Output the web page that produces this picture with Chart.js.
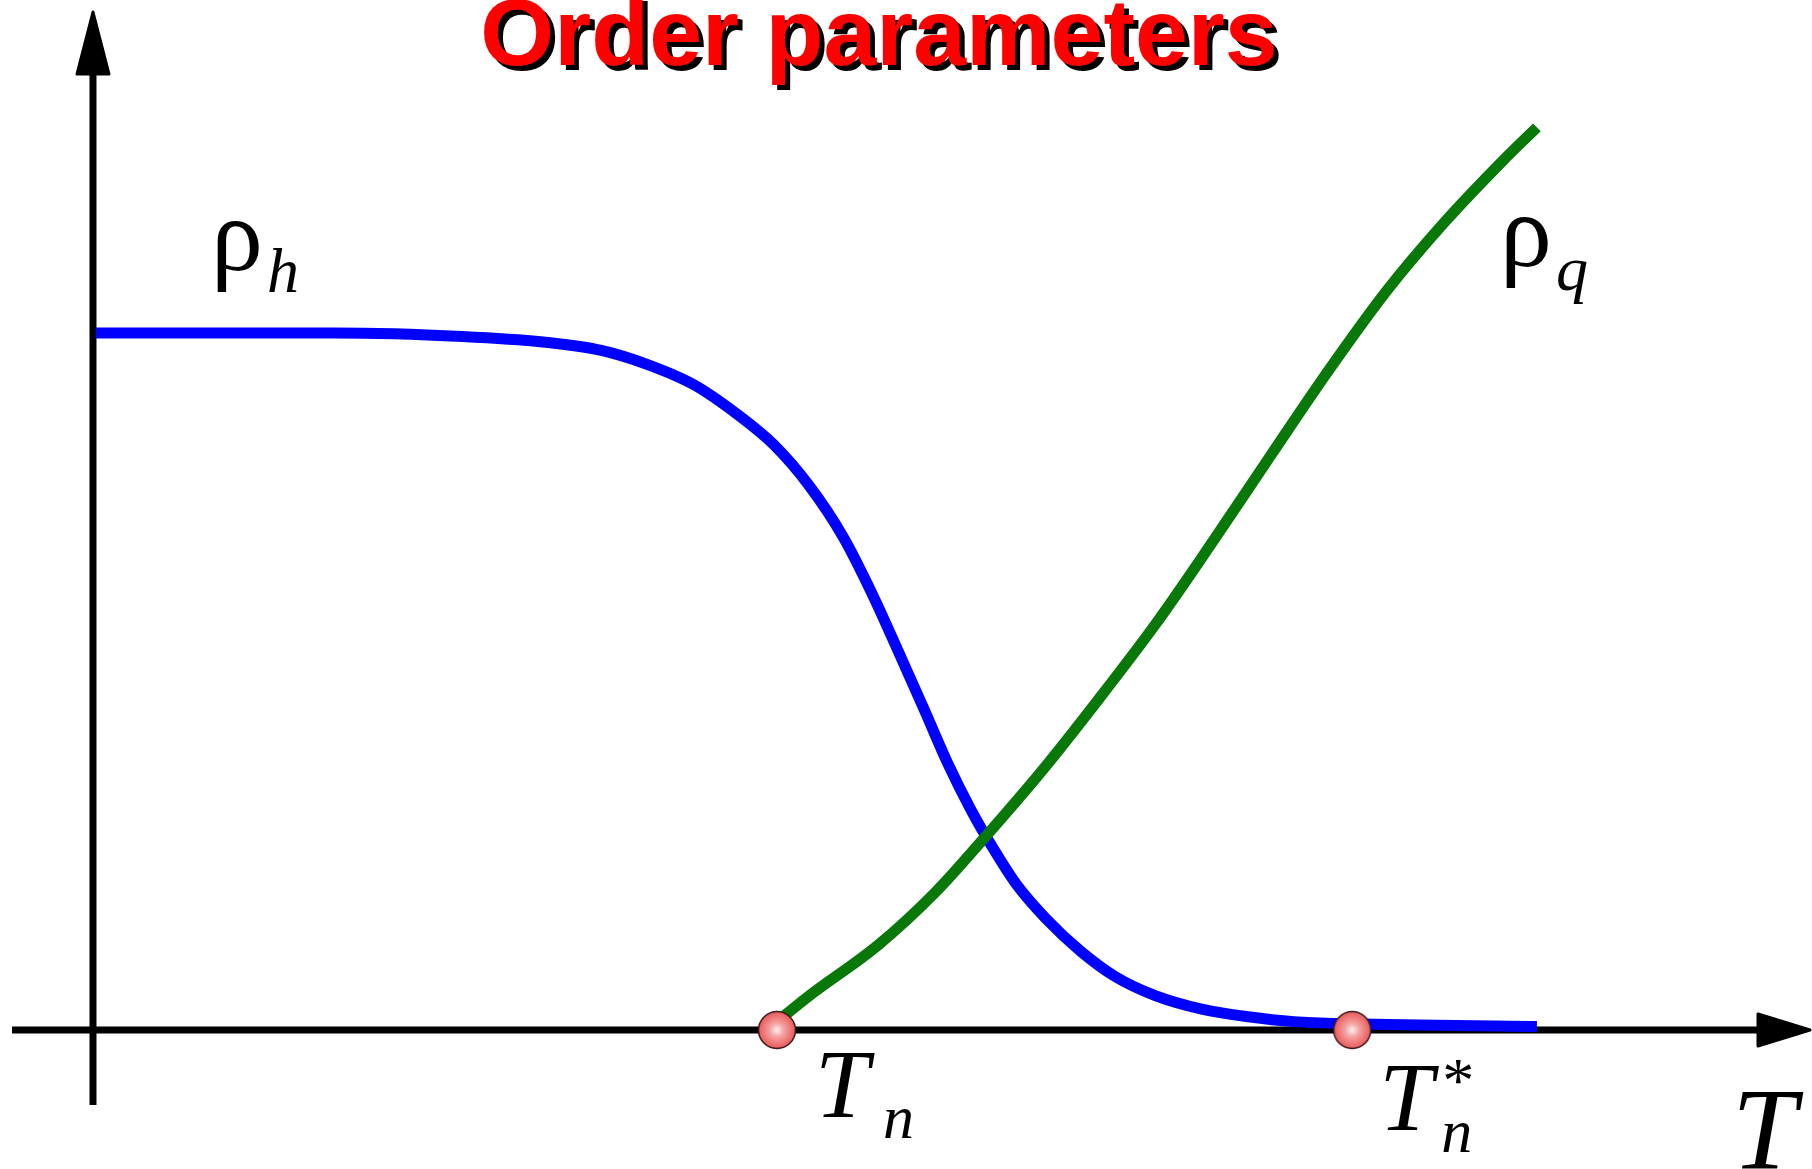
<!DOCTYPE html>
<html>
<head>
<meta charset="utf-8">
<script src="https://cdn.jsdelivr.net/npm/chart.js@4.4.0/dist/chart.umd.min.js"></script>
<style>
html, body { margin: 0; padding: 0; background: #fff; overflow: hidden; }
#wrap { width: 1812px; height: 1169px; position: relative; }
</style>
</head>
<body>
<div id="wrap"><canvas id="chart"></canvas></div>
<script>
// order parameter curves, T in units of Tn, rho in units of rho_h(0)
var hotT   = [0.004, 0.354, 0.540, 0.658, 0.743, 0.810, 0.878, 0.945, 0.996, 1.047, 1.097, 1.140, 1.182, 1.216, 1.249, 1.283, 1.317, 1.350, 1.393, 1.444, 1.494, 1.554, 1.621, 1.689, 1.756, 1.841, 2.111];
var hotRho = [1.000, 1.000, 0.995, 0.987, 0.975, 0.955, 0.926, 0.881, 0.839, 0.781, 0.707, 0.624, 0.533, 0.458, 0.384, 0.317, 0.259, 0.209, 0.160, 0.113, 0.077, 0.049, 0.030, 0.019, 0.012, 0.009, 0.005];

var qT   = [1.000, 1.047, 1.148, 1.232, 1.300, 1.385, 1.469, 1.554, 1.638, 1.723, 1.807, 1.891, 1.976, 2.060, 2.111];
var qRho = [0.012, 0.049, 0.122, 0.198, 0.272, 0.369, 0.473, 0.583, 0.702, 0.826, 0.947, 1.060, 1.159, 1.246, 1.295];

var markT   = [1.0, 1.841];
var markRho = [0, 0];

function pts(xs, ys) {
    return xs.map(function (x, i) { return {x: x, y: ys[i]}; });
}

// shaded red ball used for the two marked temperatures
var ball = document.createElement('canvas');
ball.width = 40; ball.height = 40;
var bctx = ball.getContext('2d');
var g = bctx.createRadialGradient(20, 20, 1, 20, 20, 19);
g.addColorStop(0, '#fbe4e4');
g.addColorStop(0.35, '#f4a0a0');
g.addColorStop(0.8, '#ee6c6c');
g.addColorStop(1, '#e25858');
bctx.beginPath();
bctx.arc(20, 20, 18.5, 0, Math.PI * 2);
bctx.fillStyle = g;
bctx.fill();
bctx.lineWidth = 1.5;
bctx.strokeStyle = '#3a1a1a';
bctx.stroke();

var axesPlugin = {
    id: 'axes',
    beforeDatasetsDraw: function (chart) {
        var c = chart.ctx, a = chart.chartArea;
        var x0 = chart.scales.x.getPixelForValue(0);
        var y0 = chart.scales.y.getPixelForValue(0);
        c.save();
        c.fillStyle = '#000';
        c.strokeStyle = '#000';
        c.lineWidth = 7;
        c.beginPath();
        c.moveTo(a.left, y0); c.lineTo(a.right - 40, y0);
        c.moveTo(x0, a.bottom); c.lineTo(x0, a.top + 40);
        c.stroke();
        c.lineJoin = 'round';
        c.lineWidth = 3;
        c.beginPath();
        c.moveTo(a.right - 2, y0);
        c.lineTo(a.right - 54, y0 - 16);
        c.lineTo(a.right - 54, y0 + 16);
        c.closePath();
        c.fill(); c.stroke();
        c.beginPath();
        c.moveTo(x0, a.top + 2);
        c.lineTo(x0 - 16, a.top + 64);
        c.lineTo(x0 + 16, a.top + 64);
        c.closePath();
        c.fill(); c.stroke();
        c.restore();
    }
};

function sym(c, main, sub, x, y, mainFont, subFont, dx, dy) {
    c.font = mainFont;
    c.fillText(main, x, y);
    c.font = subFont;
    c.fillText(sub, x + dx, y + dy);
}

var textPlugin = {
    id: 'texts',
    afterDraw: function (chart) {
        var c = chart.ctx;
        var xs = chart.scales.x;
        c.save();
        c.textAlign = 'left';
        c.textBaseline = 'alphabetic';
        c.fillStyle = '#000';
        var serif = '"Liberation Serif", "Times New Roman", serif';
        // rho labels
        sym(c, 'ρ', 'h', 211, 270, '104px ' + serif, 'italic 64px ' + serif, 56, 22);
        sym(c, 'ρ', 'q', 1500, 266, '104px ' + serif, 'italic 64px ' + serif, 56, 24);
        // T_n and T_n*
        var tn = xs.getPixelForValue(markT[0]);
        var tns = xs.getPixelForValue(markT[1]);
        sym(c, 'T', 'n', tn + 38, 1117, 'italic 97px ' + serif, 'italic 62px ' + serif, 68, 21);
        sym(c, 'T', 'n', tns + 27, 1130, 'italic 97px ' + serif, 'italic 62px ' + serif, 62, 22);
        c.font = '64px ' + serif;
        c.fillText('*', tns + 90, 1102);
        c.font = 'italic 116px ' + serif;
        c.fillText('T', 1732, 1169);
        // title with drop shadow
        c.textAlign = 'center';
        c.font = 'bold 95px "Liberation Sans", Arial, sans-serif';
        c.fillStyle = '#000';
        c.fillText('Order parameters', 884, 70);
        c.fillStyle = '#ff0000';
        c.fillText('Order parameters', 879, 65);
        c.restore();
    }
};

var ctx = document.getElementById('chart').getContext('2d');

var chartData = {
    type: 'scatter',
    data: {
        datasets: [
            {
                label: 'T_n marks',
                data: pts(markT, markRho),
                pointStyle: ball,
                pointRadius: 19,
                showLine: false,
                order: 0
            },
            {
                label: 'rho_q',
                data: pts(qT, qRho),
                showLine: true,
                borderColor: '#087808',
                borderWidth: 11,
                pointRadius: 0,
                cubicInterpolationMode: 'monotone',
                borderCapStyle: 'butt',
                order: 1
            },
            {
                label: 'rho_h',
                data: pts(hotT, hotRho),
                showLine: true,
                borderColor: '#0000ff',
                borderWidth: 11,
                pointRadius: 0,
                cubicInterpolationMode: 'monotone',
                borderCapStyle: 'butt',
                order: 2
            }
        ]
    },
    options: {
        responsive: true,
        maintainAspectRatio: false,
        animation: false,
        layout: { autoPadding: false, padding: { left: 12, right: 0, top: 10, bottom: 64 } },
        scales: {
            x: { type: 'linear', display: false, min: -0.1184, max: 2.5132 },
            y: { type: 'linear', display: false, min: -0.1076, max: 1.4634 }
        },
        plugins: {
            legend: { display: false },
            tooltip: { enabled: false }
        }
    },
    plugins: [axesPlugin, textPlugin]
};

var myChart = new Chart(ctx, chartData);
</script>
</body>
</html>
